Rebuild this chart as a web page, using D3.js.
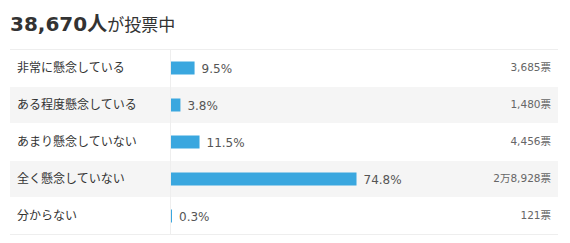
<!DOCTYPE html>
<html>
<head>
<meta charset="utf-8">
<script src="https://cdn.jsdelivr.net/npm/d3@7"></script>
<style>
  html, body { margin: 0; padding: 0; background: #fff; }
  svg { display: block; }
</style>
</head>
<body>
<svg id="chart" width="570" height="243"></svg>
<script>
const totalVoters = 38670;
const categories = ["非常に懸念している", "ある程度懸念している", "あまり懸念していない", "全く懸念していない", "分からない"];
const percents = [9.5, 3.8, 11.5, 74.8, 0.3];
const votes = [3685, 1480, 4456, 28928, 121];

(function () {
const svg = d3.select("#chart");
const rowLeft = 10, rowRight = 558, rowTop = 49, rowBottom = 234;
const barX0 = 171;
const latin = "'DejaVu Sans', 'Noto Sans CJK JP', sans-serif";

const y = d3.scaleBand().domain(categories).range([rowTop, rowBottom]).padding(0);
const x = d3.scaleLinear().domain([0, 100]).range([barX0, barX0 + 248]);

function fmtVotes(n) {
  if (n >= 10000) {
    return Math.floor(n / 10000) + "万" + d3.format(",")(n % 10000) + "票";
  }
  return d3.format(",")(n) + "票";
}

// title
const title = svg.append("text")
  .attr("x", 10).attr("y", 31)
  .attr("fill", "#333");
title.append("tspan")
  .attr("font-family", latin)
  .attr("font-weight", "bold")
  .attr("font-size", 20)
  .text(d3.format(",")(totalVoters) + "人");
title.append("tspan")
  .attr("font-family", "'Noto Sans CJK JP', sans-serif")
  .attr("font-size", 17)
  .text("が投票中");

// row backgrounds
svg.append("g").selectAll("rect")
  .data(categories)
  .join("rect")
  .attr("x", rowLeft)
  .attr("y", d => y(d) + 1)
  .attr("width", rowRight - rowLeft)
  .attr("height", y.bandwidth() - 1)
  .attr("fill", (d, i) => i % 2 === 1 ? "#f5f5f5" : "#fff");

// borders
svg.append("line").attr("x1", rowLeft).attr("x2", rowRight).attr("y1", rowTop + 0.5).attr("y2", rowTop + 0.5)
  .attr("stroke", "#eeeeee");
svg.append("line").attr("x1", rowLeft).attr("x2", rowRight).attr("y1", rowBottom + 0.5).attr("y2", rowBottom + 0.5)
  .attr("stroke", "#eeeeee");
svg.append("line").attr("x1", barX0 - 0.5).attr("x2", barX0 - 0.5).attr("y1", rowTop).attr("y2", rowBottom)
  .attr("stroke", "#eeeeee");

// labels
svg.append("g").selectAll("text")
  .data(categories)
  .join("text")
  .attr("x", 17)
  .attr("y", d => y(d) + y.bandwidth() / 2)
  .attr("dy", "0.35em")
  .attr("font-family", "'Noto Sans CJK JP', sans-serif")
  .attr("font-size", 12)
  .attr("fill", "#333")
  .text(d => d);

// bars
svg.append("g").selectAll("rect")
  .data(percents)
  .join("rect")
  .attr("x", x(0))
  .attr("y", (d, i) => y(categories[i]) + y.bandwidth() / 2 - 6)
  .attr("width", d => Math.max(1, x(d) - x(0)))
  .attr("height", 13)
  .attr("fill", "#3aa7df");

// percents
svg.append("g").selectAll("text")
  .data(percents)
  .join("text")
  .attr("x", d => Math.max(x(0) + 1, x(d)) + 7)
  .attr("y", (d, i) => y(categories[i]) + y.bandwidth() / 2 + 1)
  .attr("dy", "0.35em")
  .attr("font-family", latin)
  .attr("font-size", 12)
  .attr("fill", "#555")
  .text(d => d.toFixed(1) + "%");

// votes
svg.append("g").selectAll("text")
  .data(votes)
  .join("text")
  .attr("x", 551)
  .attr("y", (d, i) => y(categories[i]) + y.bandwidth() / 2)
  .attr("dy", "0.35em")
  .attr("text-anchor", "end")
  .attr("font-family", latin)
  .attr("font-size", 10.5)
  .attr("fill", "#666")
  .text(d => fmtVotes(d));
})();
</script>
</body>
</html>
